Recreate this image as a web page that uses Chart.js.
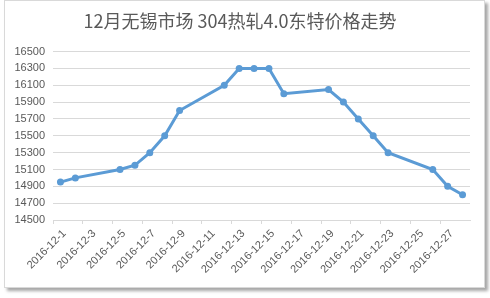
<!DOCTYPE html>
<html>
<head>
<meta charset="utf-8">
<script src="https://cdn.jsdelivr.net/npm/chart.js@4"></script>
<style>
  body { margin: 0; background: #fff; }
  #box {
    position: absolute; left: 4px; top: 0px;
    width: 479px; height: 286px;
    border: 1px solid #d9d9d9;
    box-shadow: 3px 3px 3px rgba(0,0,0,0.35);
    background: #fff;
  }
  #box canvas { display: block; }
</style>
</head>
<body>
<div id="box"><canvas id="priceChart" width="479" height="286"></canvas></div>
<script>
// days 1..28 of December 2016, only trading days have a price
var days = [];
for (var d = 1; d <= 28; d++) days.push('2016-12-' + d);

var priceDays = [1, 2, 5, 6, 7, 8, 9, 12, 13, 14, 15, 16, 19, 20, 21, 22, 23, 26, 27, 28];
var prices = [14950, 15000, 15100, 15150, 15300, 15500, 15800, 16100, 16300, 16300,
              16300, 16000, 16050, 15900, 15700, 15500, 15300, 15100, 14900, 14800];

var yMin = 14500, yMax = 16500, yStep = 200;

// put the prices onto the day slots
var series = days.map(function () { return null; });
priceDays.forEach(function (day, i) { series[day - 1] = prices[i]; });

var ctx = document.getElementById('priceChart').getContext('2d');
var gray = '#595959';
var lineGray = '#d9d9d9';

var chart = new Chart(ctx, {
  type: 'line',
  data: {
    labels: days,
    datasets: [{
      data: series,
      spanGaps: true,
      borderColor: '#5b9bd5',
      backgroundColor: '#5b9bd5',
      borderWidth: 3,
      pointRadius: 3.5,
      pointBorderWidth: 0,
      tension: 0
    }]
  },
  options: {
    responsive: false,
    animation: false,
    layout: { padding: { left: 5, right: 14, top: 0, bottom: 0 } },
    plugins: {
      legend: { display: false },
      tooltip: { enabled: false },
      title: {
        display: true,
        text: '12月无锡市场 304热轧4.0东特价格走势',
        color: gray,
        font: { family: '"Noto Sans CJK SC", sans-serif', size: 18, weight: 'normal' },
        padding: { top: 9, bottom: 20 }
      }
    },
    scales: {
      x: {
        offset: true,
        grid: {
          offset: true,
          drawOnChartArea: false,
          drawTicks: true,
          tickLength: 4,
          color: function (c) { return c.index % 2 === 0 ? lineGray : 'rgba(0,0,0,0)'; }
        },
        border: { display: true, color: lineGray },
        ticks: {
          autoSkip: false,
          maxRotation: 45,
          minRotation: 45,
          padding: 3,
          labelOffset: 4,
          color: gray,
          font: { family: '"Liberation Sans", sans-serif', size: 11 },
          callback: function (v, i) { return i % 2 === 0 ? days[i] : ''; }
        },
        afterFit: function (s) { s.height = 67; }
      },
      y: {
        min: yMin,
        max: yMax,
        grid: { color: lineGray, drawTicks: false },
        border: { display: false },
        ticks: {
          stepSize: yStep,
          padding: 8,
          color: gray,
          font: { family: '"Liberation Sans", sans-serif', size: 11 },
          callback: function (v) { return String(v); }
        },
        afterFit: function (s) { s.width = 43; }
      }
    }
  }
});
</script>
</body>
</html>
